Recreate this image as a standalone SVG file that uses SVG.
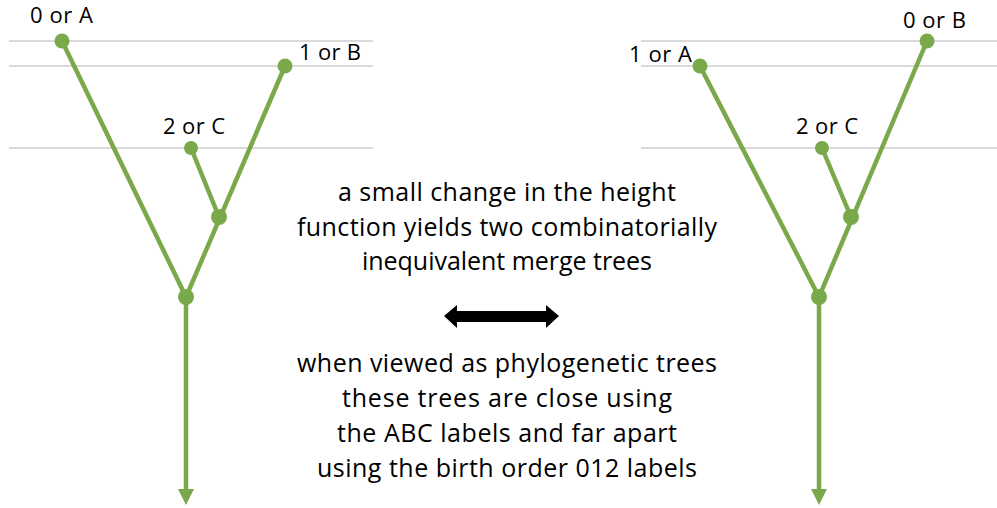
<svg xmlns="http://www.w3.org/2000/svg" width="997" height="508" viewBox="0 0 997 508">
<style>
.grid{stroke:#b4b4b4;stroke-width:1;fill:none}
.edge{stroke:#7AA94C;stroke-width:4.5;fill:none}
.node{fill:#7AA94C}
.lbl{font-family:"Open Sans","Liberation Sans",sans-serif;font-size:22px;fill:#000}
.txt{font-family:"Open Sans","Liberation Sans",sans-serif;font-size:25px;fill:#000;text-anchor:middle}
</style>
<rect width="997" height="508" fill="#fff"/>
<g id="levels">
<line class="grid" x1="9" y1="41" x2="373" y2="41"/>
<line class="grid" x1="9" y1="66" x2="373" y2="66"/>
<line class="grid" x1="9" y1="148" x2="373" y2="148"/>
<line class="grid" x1="641" y1="41" x2="997" y2="41"/>
<line class="grid" x1="641" y1="66" x2="997" y2="66"/>
<line class="grid" x1="641" y1="148" x2="997" y2="148"/>
</g>
<g id="connectors">
<line class="edge" x1="62" y1="41" x2="186" y2="297"/>
<line class="edge" x1="285" y1="66" x2="186" y2="297"/>
<line class="edge" x1="191" y1="148" x2="219" y2="217"/>
<line class="edge" x1="186" y1="297" x2="186" y2="490"/>
<polygon class="node" points="178,489 194,489 186,505"/>
<line class="edge" x1="700" y1="66" x2="819" y2="297"/>
<line class="edge" x1="927" y1="41" x2="819" y2="297"/>
<line class="edge" x1="822" y1="148" x2="851" y2="217"/>
<line class="edge" x1="819" y1="297" x2="819" y2="490"/>
<polygon class="node" points="811,489 827,489 819,505"/>
</g>
<g id="left-A"><circle class="node" cx="62" cy="41" r="7.5"/><text class="lbl" x="30" y="23" font-size="21" textLength="63">0 or A</text></g>
<g id="left-B"><circle class="node" cx="285" cy="66" r="7.5"/><text class="lbl" x="299" y="60" textLength="62">1 or B</text></g>
<g id="left-C"><circle class="node" cx="191" cy="148" r="7"/><text class="lbl" x="163" y="134" textLength="62">2 or C</text></g>
<g id="left-BC"><circle class="node" cx="219" cy="217" r="8"/></g>
<g id="left-root"><circle class="node" cx="186" cy="297" r="8"/></g>
<g id="right-B"><circle class="node" cx="927" cy="41" r="7.5"/><text class="lbl" x="903" y="28" textLength="63">0 or B</text></g>
<g id="right-A"><circle class="node" cx="700" cy="66" r="7.5"/><text class="lbl" x="629" y="62" textLength="63">1 or A</text></g>
<g id="right-C"><circle class="node" cx="822" cy="148" r="7"/><text class="lbl" x="796" y="134" textLength="62">2 or C</text></g>
<g id="right-BC"><circle class="node" cx="851" cy="217" r="8"/></g>
<g id="right-root"><circle class="node" cx="819" cy="297" r="8"/></g>
<g id="caption-top">
<text class="txt" x="507" y="201" textLength="338">a small change in the height</text>
<text class="txt" x="507" y="236" textLength="420">function yields two combinatorially</text>
<text class="txt" x="507" y="270" textLength="290">inequivalent merge trees</text>
</g>
<g id="double-arrow">
<polygon fill="#000" points="444,316 457,305 457,311 546,311 546,305 559,316 546,328 546,322 457,322 457,328"/>
</g>
<g id="caption-bottom">
<text class="txt" x="507" y="372" textLength="420">when viewed as phylogenetic trees</text>
<text class="txt" x="507" y="407" textLength="330">these trees are close using</text>
<text class="txt" x="507" y="442" textLength="340">the ABC labels and far apart</text>
<text class="txt" x="507" y="477" textLength="380">using the birth order 012 labels</text>
</g>
</svg>
